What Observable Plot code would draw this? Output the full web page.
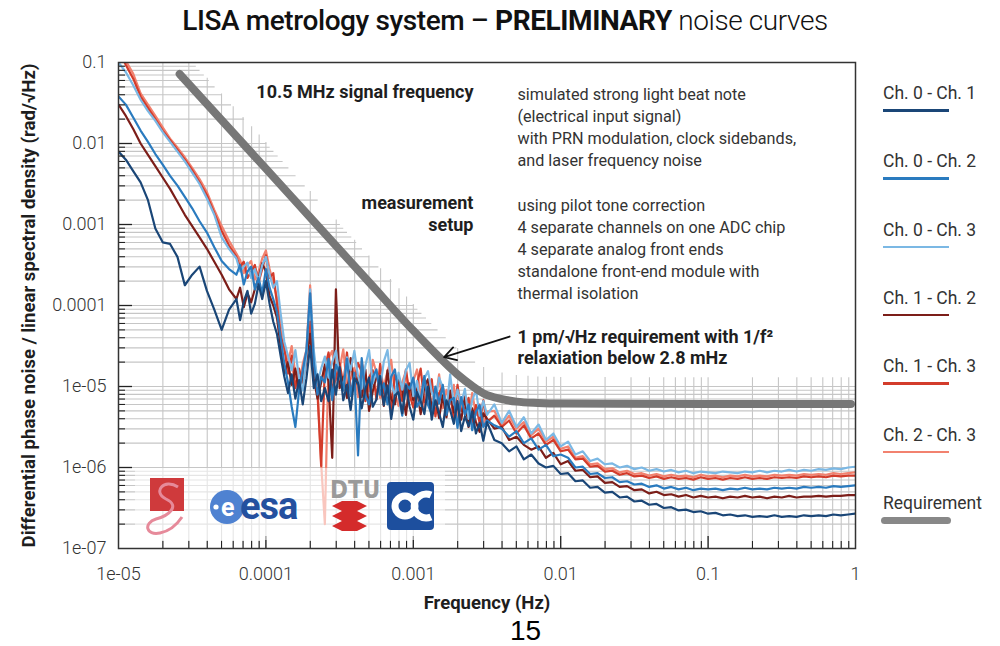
<!DOCTYPE html>
<html><head><meta charset="utf-8">
<script src="https://cdn.jsdelivr.net/npm/d3@7"></script>
<script src="https://cdn.jsdelivr.net/npm/@observablehq/plot@0.6"></script>
<style>
body{margin:0;background:#fff;font-family:Roboto,sans-serif;}
#wrap{position:relative;width:1000px;height:646px;overflow:hidden;background:#fff;}
#chart{position:absolute;left:0;top:0;}
#title{position:absolute;left:0;width:1010px;top:4px;text-align:center;font-size:28px;color:#111;letter-spacing:-0.4px;white-space:nowrap}
.leg{position:absolute;left:883px;font-size:17.5px;color:#333;white-space:nowrap;line-height:20px}
.legline{position:absolute;left:883px;width:66px;height:2.5px}
#logos{position:absolute;left:0;top:0;pointer-events:none}
</style></head><body>
<div id="wrap">
  <div id="chart"></div>
  <div id="title"><span style="font-weight:500">LISA metrology system – </span><span style="font-weight:700">PRELIMINARY</span><span style="font-weight:300"> noise curves</span></div>
  <div id="legend"></div>
  <svg id="logos" width="1000" height="646">
    <rect x="135" y="468" width="310" height="72" fill="#fff" opacity="0.55"/>
    <rect x="150" y="478" width="34" height="33" fill="#cf3a3c"/>
    <path d="M178,487 C164,478 152,492 166,499 C181,506 168,516 156,519 C143,523 146,536 160,533 C170,531 178,523 182,517" fill="none" stroke="#e68a9a" stroke-width="3"/>
    <circle cx="227" cy="507" r="17" fill="#4f82d1"/>
    <circle cx="216" cy="507" r="2.6" fill="#fff"/>
    <text x="221" y="516" font-family="Roboto" font-weight="700" font-size="25" fill="#fff">e</text>
    <text x="240" y="519" font-family="Roboto" font-weight="700" font-size="38" fill="#24509f" letter-spacing="-1">esa</text>
    <text x="330" y="498" font-family="Liberation Sans Narrow, DejaVu Sans Condensed" font-weight="700" font-size="24" fill="#9a9a9a">DTU</text>
    <polygon points="332,506 342,501 357,501 367,506 357,511 342,511" fill="#d42b2b"/>
    <polygon points="332,516 342,511 357,511 367,516 357,521 342,521" fill="#d42b2b"/>
    <polygon points="332,526 342,521 357,521 367,526 357,531 342,531" fill="#d42b2b"/>
    <rect x="387" y="482" width="47" height="48" rx="4" fill="#1d4f9e"/>
    <circle cx="405" cy="506" r="10" fill="none" stroke="#fff" stroke-width="7"/>
    <path d="M431,495 A12,12 0 1 0 431,517" fill="none" stroke="#fff" stroke-width="7"/>
    <text x="510" y="640" font-family="Liberation Sans, Arial, sans-serif" font-size="28" fill="#000">15</text>
  </svg>
</div>
<script>
// ---- data (log10 values) ----
const F = [
 -5.00,-4.95,-4.90,-4.85,-4.80,-4.75,-4.70,-4.65,-4.60,-4.55,-4.50,-4.45,-4.40,-4.35,-4.30,-4.25,
 -4.200,-4.175,-4.150,-4.125,-4.100,-4.075,-4.050,-4.025,
 -4.000,-3.975,-3.950,-3.925,-3.900,-3.875,-3.850,-3.825,
 -3.800,-3.775,-3.750,-3.725,-3.700,-3.675,-3.650,-3.625,
 -3.600,-3.575,-3.550,-3.525,-3.500,-3.475,-3.450,-3.425,
 -3.400,-3.375,-3.350,-3.325,-3.300,-3.275,-3.250,-3.225,
 -3.200,-3.175,-3.150,-3.125,-3.100,-3.075,-3.050,-3.025,
 -3.000,-2.975,-2.950,-2.925,-2.900,-2.875,-2.850,-2.825,
 -2.800,-2.775,-2.750,-2.725,-2.700,-2.675,-2.650,-2.625,
 -2.600,-2.575,-2.550,-2.525,-2.500,
 -2.45,-2.40,-2.35,-2.30,-2.25,-2.20,-2.15,-2.10,-2.05,-2.00,
 -1.95,-1.90,-1.85,-1.80,-1.75,-1.70,-1.65,-1.60,-1.55,-1.50,
 -1.45,-1.40,-1.35,-1.30,-1.25,-1.20,-1.15,-1.10,-1.05,-1.00,
 -0.95,-0.90,-0.85,-0.80,-0.75,-0.70,-0.65,-0.60,-0.55,-0.50,
 -0.45,-0.40,-0.35,-0.30,-0.25,-0.20,-0.15,-0.10,-0.05,0.00
];
const S01 = [
 -2.10,-2.20,-2.34,-2.48,-2.70,-3.05,-3.22,-3.24,-3.40,-3.75,-3.62,-3.52,-3.82,-4.05,-4.30,-4.05,
 -3.92,-4.18,-3.95,-3.82,-4.10,-3.98,-3.74,-3.92,
 -3.70,-3.98,-4.20,-4.35,-4.62,-4.88,-5.08,-4.85,
 -5.15,-4.92,-5.22,-4.90,-4.50,-5.02,-4.85,-5.18,
 -5.02,-5.18,-4.79,-5.10,-4.76,-5.17,-4.98,-5.29,
 -4.90,-4.96,-5.27,-5.03,-4.89,-5.25,-5.16,-4.87,
 -5.23,-4.99,-5.40,-5.11,-5.07,-5.33,-4.99,-5.25,
 -5.41,-5.07,-5.18,-5.34,-5.00,-5.41,-5.17,-5.33,
 -5.50,-5.17,-5.29,-5.46,-5.18,-5.55,-5.37,-5.49,
 -5.31,-5.58,-5.45,-5.67,-5.44,
 -5.66,-5.70,-5.80,-5.74,-5.90,-5.84,-5.95,-6.00,-5.98,-6.08,
 -6.07,-6.17,-6.16,-6.25,-6.24,-6.31,-6.30,-6.37,-6.36,-6.42,
 -6.41,-6.46,-6.45,-6.50,-6.49,-6.53,-6.52,-6.55,-6.54,-6.57,
 -6.56,-6.59,-6.58,-6.60,-6.59,-6.61,-6.60,-6.61,-6.59,-6.61,
 -6.60,-6.61,-6.59,-6.60,-6.59,-6.60,-6.58,-6.59,-6.58,-6.57
];
const S02 = [
 -1.42,-1.52,-1.68,-1.84,-1.98,-2.13,-2.26,-2.40,-2.52,-2.66,-2.80,-2.96,-3.10,-3.28,-3.45,-3.55,
 -3.62,-3.50,-3.74,-3.58,-3.52,-3.80,-3.66,-3.85,
 -3.55,-3.78,-3.92,-4.08,-4.40,-4.72,-4.95,-5.25,
 -5.50,-5.05,-4.80,-4.55,-3.85,-4.70,-5.10,-4.88,
 -4.95,-4.66,-5.17,-4.73,-4.84,-5.05,-4.66,-5.12,
 -4.83,-5.85,-4.65,-5.11,-5.22,-4.88,-4.79,-5.10,
 -4.96,-5.22,-4.88,-4.79,-5.10,-5.36,-4.97,-5.03,
 -4.89,-5.25,-5.16,-4.87,-5.23,-5.34,-5.00,-5.21,
 -4.98,-5.35,-5.17,-5.14,-5.51,-5.13,-5.35,-5.22,
 -5.54,-5.31,-5.23,-5.50,-5.42,
 -5.48,-5.52,-5.62,-5.55,-5.70,-5.64,-5.78,-5.72,-5.86,-5.84,
 -5.88,-6.00,-5.99,-6.08,-6.07,-6.13,-6.12,-6.18,-6.17,-6.21,
 -6.20,-6.24,-6.22,-6.26,-6.24,-6.27,-6.25,-6.28,-6.26,-6.27,
 -6.26,-6.28,-6.26,-6.27,-6.25,-6.27,-6.26,-6.27,-6.25,-6.26,
 -6.25,-6.26,-6.24,-6.25,-6.24,-6.25,-6.23,-6.24,-6.23,-6.22
];
const S03 = [
 -1.00,-1.12,-1.28,-1.46,-1.60,-1.72,-1.86,-1.98,-2.10,-2.22,-2.36,-2.50,-2.68,-2.88,-3.16,-3.30,
 -3.42,-3.58,-3.52,-3.47,-3.66,-3.55,-3.70,-3.50,
 -3.40,-3.62,-3.78,-3.70,-4.10,-4.45,-4.62,-4.80,
 -4.55,-4.90,-5.05,-4.60,-3.80,-4.55,-4.95,-4.78,
 -4.63,-4.89,-4.70,-4.56,-4.87,-5.03,-4.64,-4.80,
 -4.56,-4.87,-5.03,-4.74,-4.55,-4.96,-4.82,-5.03,
 -4.69,-4.55,-4.96,-5.12,-4.83,-5.04,-4.80,-4.71,
 -5.12,-4.93,-5.24,-4.90,-4.81,-5.07,-5.18,-4.89,
 -5.01,-5.28,-4.85,-5.22,-5.04,-5.21,-5.03,-5.40,
 -5.17,-5.04,-5.36,-5.18,-5.35,
 -5.22,-5.45,-5.30,-5.50,-5.38,-5.58,-5.47,-5.66,-5.58,-5.74,
 -5.68,-5.84,-5.80,-5.92,-5.89,-5.96,-5.95,-6.00,-5.98,-6.02,
 -6.00,-6.04,-6.02,-6.05,-6.03,-6.06,-6.04,-6.07,-6.05,-6.06,
 -6.07,-6.05,-6.06,-6.07,-6.05,-6.06,-6.04,-6.06,-6.04,-6.05,
 -6.03,-6.05,-6.03,-6.04,-6.02,-6.03,-6.01,-6.02,-6.00,-5.99
];
const S12 = [
 -1.52,-1.66,-1.82,-2.00,-2.14,-2.28,-2.42,-2.56,-2.72,-2.88,-3.02,-3.16,-3.30,-3.46,-3.62,-3.80,
 -3.92,-3.78,-4.02,-3.85,-3.96,-3.80,-3.66,-3.48,
 -3.58,-3.88,-4.00,-4.15,-4.50,-4.84,-4.70,-4.98,
 -4.78,-5.08,-4.88,-4.66,-4.35,-4.90,-5.15,-4.95,
 -4.73,-4.94,-5.88,-3.80,-5.02,-4.88,-5.14,-4.65,
 -5.01,-4.87,-5.13,-4.79,-5.30,-5.06,-4.87,-4.93,
 -5.24,-4.80,-5.16,-5.22,-4.88,-5.04,-5.35,-4.96,
 -5.17,-5.03,-5.34,-5.00,-4.91,-5.27,-5.13,-5.39,
 -5.11,-5.38,-5.05,-5.32,-5.24,-5.41,-5.13,-5.50,
 -5.27,-5.44,-5.56,-5.33,-5.40,
 -5.52,-5.50,-5.66,-5.62,-5.72,-5.78,-5.74,-5.88,-5.82,-5.96,
 -5.92,-6.04,-6.03,-6.12,-6.11,-6.19,-6.18,-6.24,-6.23,-6.28,
 -6.27,-6.32,-6.30,-6.34,-6.33,-6.36,-6.34,-6.37,-6.35,-6.37,
 -6.36,-6.38,-6.36,-6.37,-6.35,-6.37,-6.36,-6.38,-6.36,-6.37,
 -6.35,-6.37,-6.36,-6.36,-6.35,-6.36,-6.35,-6.35,-6.34,-6.34
];
const S13 = [
 -0.85,-1.03,-1.20,-1.42,-1.56,-1.70,-1.84,-1.96,-2.08,-2.20,-2.33,-2.48,-2.64,-2.86,-3.08,-3.26,
 -3.40,-3.52,-3.46,-3.66,-3.58,-3.50,-3.72,-3.55,
 -3.38,-3.66,-3.60,-3.98,-4.38,-4.52,-4.84,-4.62,
 -5.02,-4.78,-4.95,-4.68,-4.20,-4.90,-5.08,-5.98,
 -4.77,-4.58,-5.04,-4.90,-4.71,-4.97,-4.58,-5.04,
 -4.95,-4.71,-4.82,-5.18,-4.89,-4.80,-5.16,-4.72,
 -5.08,-4.99,-5.30,-4.86,-4.97,-5.18,-4.79,-5.10,
 -5.26,-4.97,-4.78,-5.19,-5.15,-4.91,-5.37,-5.08,
 -5.00,-5.27,-5.09,-5.41,-4.98,-5.30,-5.27,-5.14,
 -5.46,-5.23,-5.45,-5.17,-5.44,
 -5.36,-5.50,-5.42,-5.58,-5.48,-5.64,-5.58,-5.72,-5.66,-5.80,
 -5.78,-5.90,-5.89,-5.99,-5.98,-6.05,-6.04,-6.09,-6.07,-6.11,
 -6.10,-6.13,-6.11,-6.14,-6.12,-6.14,-6.13,-6.15,-6.12,-6.14,
 -6.13,-6.15,-6.13,-6.14,-6.12,-6.14,-6.13,-6.14,-6.12,-6.13,
 -6.12,-6.13,-6.11,-6.12,-6.11,-6.12,-6.10,-6.11,-6.10,-6.10
];
const S23 = [
 -0.78,-0.98,-1.14,-1.38,-1.52,-1.66,-1.80,-1.94,-2.05,-2.17,-2.30,-2.44,-2.60,-2.82,-3.02,-3.20,
 -3.36,-3.44,-3.60,-3.50,-3.45,-3.68,-3.58,-3.42,
 -3.32,-3.55,-3.72,-3.90,-4.25,-4.55,-4.70,-4.50,
 -4.85,-5.00,-4.72,-4.55,-3.75,-4.62,-5.00,-5.95,
 -6.70,-4.65,-4.56,-4.92,-4.78,-4.54,-5.00,-4.91,
 -4.77,-5.13,-4.69,-4.90,-5.06,-4.67,-4.83,-5.14,
 -5.00,-4.81,-4.67,-5.08,-5.24,-4.95,-4.81,-5.17,
 -4.93,-4.79,-5.10,-5.26,-4.92,-5.03,-5.19,-4.85,
 -5.27,-5.04,-5.21,-4.98,-5.40,-5.17,-5.09,-5.36,
 -5.08,-5.35,-5.22,-5.49,-5.31,
 -5.30,-5.48,-5.36,-5.52,-5.44,-5.60,-5.52,-5.68,-5.62,-5.77,
 -5.74,-5.88,-5.86,-5.96,-5.95,-6.02,-6.01,-6.06,-6.04,-6.08,
 -6.07,-6.10,-6.08,-6.11,-6.09,-6.11,-6.10,-6.12,-6.09,-6.11,
 -6.10,-6.12,-6.10,-6.11,-6.09,-6.11,-6.10,-6.11,-6.09,-6.10,
 -6.09,-6.10,-6.08,-6.09,-6.08,-6.09,-6.07,-6.08,-6.07,-6.06
];
const seriesNames  = ["Ch. 0 - Ch. 1","Ch. 0 - Ch. 2","Ch. 0 - Ch. 3","Ch. 1 - Ch. 2","Ch. 1 - Ch. 3","Ch. 2 - Ch. 3"];
const seriesValues = [S01, S02, S03, S12, S13, S23];
const seriesColors = ["#1a4677","#2a7bbf","#7bb8e4","#7c1e19","#d33c2b","#f2826f"];
const drawOrder = [5, 4, 3, 2, 1, 0];

// requirement curve (1 pm/√Hz with 1/f² relaxation)
const reqF = [2.6e-5, 5e-5, 1e-4, 2e-4, 5e-4, 1e-3, 1.5e-3, 2e-3, 2.5e-3, 3e-3, 4e-3, 5e-3, 7e-3, 1e-2, 0.1, 0.93];
const reqV = [0.072, 0.0195, 0.0049, 0.00122, 1.95e-4, 4.9e-5, 2.3e-5, 1.4e-5, 1.02e-5, 8.2e-6, 7.0e-6, 6.5e-6, 6.25e-6, 6.15e-6, 6.1e-6, 6.1e-6];

const xMajor = [1e-5, 1e-4, 1e-3, 1e-2, 1e-1, 1];
const xTickLabels = ["1e-05", "0.0001", "0.001", "0.01", "0.1", "1"];
const yMajor = [1e-7, 1e-6, 1e-5, 1e-4, 1e-3, 1e-2, 1e-1];
const yTickLabels = ["1e-07", "1e-06", "1e-05", "0.0001", "0.001", "0.01", "0.1"];

const xLabel = "Frequency (Hz)";
const yLabel = "Differential phase noise / linear spectral density (rad/√Hz)";
const noteSignal = "10.5 MHz signal frequency";
const noteSetupHead = "measurement\nsetup";
const noteBlock1 = "simulated strong light beat note\n(electrical input signal)\nwith PRN modulation, clock sidebands,\nand laser frequency noise";
const noteBlock2 = "using pilot tone correction\n4 separate channels on one ADC chip\n4 separate analog front ends\nstandalone front-end module with\nthermal isolation";
const noteReq = "1 pm/√Hz requirement with 1/f²\nrelaxiation below 2.8 mHz";

// ---- layout ----
const W = 1000, H = 646, mL = 118, mR = 145, mT = 62, mB = 98;
const decX = (W - mL - mR) / 5, decY = (H - mT - mB) / 6;
const lx = px => 10 ** (-5 + px / decX);
const ly = px => 10 ** (-7 + px / decY);

// ---- tables ----
const tables = seriesValues.map(vals => F.slice(0, Math.min(F.length, vals.length)).map((f, i) => ({f: 10 ** f, v: 10 ** vals[i]})));
const reqTable = reqF.map((f, i) => ({f, v: reqV[i]}));

// staircase grid limited to the region under the requirement curve
const reqLog = d3.scaleLinear().domain(reqF.map(Math.log10)).range(reqV.map(Math.log10));
const gridFactor = 2.1;
const boundary = f => (10 ** reqLog(Math.log10(f))) * gridFactor;
function xEnd(v) {
  if (v <= boundary(1)) return 1;
  let lo = -5, hi = 0;
  for (let k = 0; k < 40; k++) { const m = (lo + hi) / 2; if (boundary(10 ** m) > v) lo = m; else hi = m; }
  return 10 ** lo;
}
const minorOf = majors => majors.slice(0, -1).flatMap(m => [2,3,4,5,6,7,8,9].map(k => k * m));
const xMinor = minorOf(xMajor), yMinor = minorOf(yMajor);
const xGrid = [...xMajor, ...xMinor].filter(d => d > 1e-5 && d < 1);
const yGrid = [...yMajor, ...yMinor].filter(d => d > 1e-7 && d < 0.1);

const xLab = new Map(xMajor.map((d, i) => [d, xTickLabels[i]]));
const yLab = new Map(yMajor.map((d, i) => [d, yTickLabels[i]]));

const gridColor = "#c6c6c6";
const txt = "#1e1e1e";

const chart = Plot.plot({
  width: W, height: H,
  marginLeft: mL, marginRight: mR, marginTop: mT, marginBottom: mB,
  style: {fontFamily: "Roboto, sans-serif", background: "transparent", overflow: "visible"},
  x: {type: "log", domain: [1e-5, 1]},
  y: {type: "log", domain: [1e-7, 0.1]},
  marks: [
    Plot.ruleY(yGrid, {y: d => d, x1: 1e-5, x2: d => xEnd(d), stroke: gridColor, strokeWidth: 1.1}),
    Plot.ruleX(xGrid, {x: d => d, y1: 1e-7, y2: d => Math.min(boundary(d), 0.1), stroke: gridColor, strokeWidth: 1.1}),
    ...drawOrder.map(i => Plot.line(tables[i], {x: "f", y: "v", stroke: seriesColors[i], strokeWidth: 2.2, strokeLinejoin: "round", clip: true})),
    Plot.line(reqTable, {x: "f", y: "v", stroke: "#777", strokeWidth: 8, strokeLinecap: "round", strokeLinejoin: "round", curve: "monotone-x"}),
    Plot.ruleY(yMajor.slice(1, -1), {y: d => d, x1: 1e-5, x2: lx(14), stroke: "#222", strokeWidth: 1.3}),
    Plot.ruleY(yMinor, {y: d => d, x1: 1e-5, x2: lx(7), stroke: "#222", strokeWidth: 1.1}),
    Plot.ruleX(xMajor.slice(1, -1), {x: d => d, y1: 1e-7, y2: ly(12), stroke: "#222", strokeWidth: 1.3}),
    Plot.ruleX(xMinor, {x: d => d, y1: 1e-7, y2: ly(7), stroke: "#222", strokeWidth: 1.1}),
    Plot.frame({stroke: "#333", strokeWidth: 1.5}),
    Plot.axisY({ticks: yMajor, tickSize: 0, tickPadding: 12, tickFormat: d => yLab.get(d), fontSize: 18, fontWeight: 300, fill: "#333", label: null}),
    Plot.axisX({ticks: xMajor, tickSize: 0, tickPadding: 19, tickFormat: d => xLab.get(d), fontSize: 18, fontWeight: 300, fill: "#333", label: null}),
    Plot.text([yLabel], {x: lx(-89), y: 1e-4, rotate: -90, fontSize: 18.6, fontWeight: 700, fill: txt}),
    Plot.text([xLabel], {x: 10 ** -2.5, y: ly(-54.5), fontSize: 18.5, fontWeight: 700, fill: txt}),
    Plot.text([noteSignal], {x: 2.56e-3, y: 0.0427, textAnchor: "end", fontSize: 18, fontWeight: 700, fill: txt}),
    Plot.text([noteSetupHead], {x: 2.56e-3, y: 1.37e-3, textAnchor: "end", fontSize: 18, fontWeight: 700, fill: txt, lineHeight: 1.22}),
    Plot.text([noteBlock1], {x: 5.09e-3, y: 0.01667, textAnchor: "start", fontSize: 16.2, fontWeight: 400, fill: "#333", lineHeight: 1.36}),
    Plot.text([noteBlock2], {x: 5.09e-3, y: 5.2e-4, textAnchor: "start", fontSize: 16.2, fontWeight: 400, fill: "#333", lineHeight: 1.36}),
    Plot.text([noteReq], {x: 5.09e-3, y: 3.12e-5, textAnchor: "start", fontSize: 18, fontWeight: 700, fill: txt, lineHeight: 1.22}),
    Plot.arrow([{x1: 4.5e-3, y1: 4.14e-5, x2: 1.62e-3, y2: 2.3e-5}], {x1: "x1", y1: "y1", x2: "x2", y2: "y2", stroke: "#111", strokeWidth: 1.8, headLength: 11})
  ]
});
document.getElementById("chart").appendChild(chart);

// legend
const leg = document.getElementById("legend");
const legTop = 83, legStep = 68.3;
seriesNames.forEach((name, i) => {
  const t = document.createElement("div"); t.className = "leg"; t.textContent = name;
  t.style.top = (legTop + i * legStep) + "px"; leg.appendChild(t);
  const l = document.createElement("div"); l.className = "legline"; l.style.background = seriesColors[i];
  l.style.top = (legTop + 26 + i * legStep) + "px"; leg.appendChild(l);
});
const rt = document.createElement("div"); rt.className = "leg"; rt.textContent = "Requirement";
rt.style.top = (legTop + 6 * legStep) + "px"; leg.appendChild(rt);
const rl = document.createElement("div"); rl.className = "legline";
Object.assign(rl.style, {background: "#888", height: "7px", borderRadius: "4px", width: "70px", left: "881px", top: (legTop + 24 + 6 * legStep) + "px"});
leg.appendChild(rl);
</script>
</body></html>
